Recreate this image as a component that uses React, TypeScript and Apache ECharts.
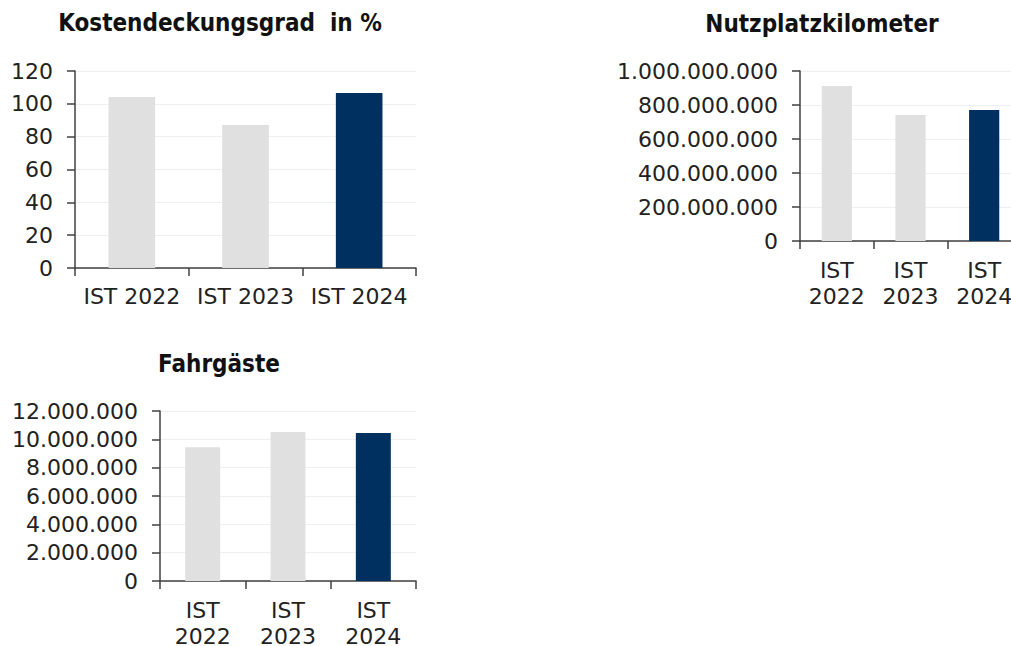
import React, { useEffect, useRef } from "react";
import * as echarts from "echarts";

const categories = ["IST 2022", "IST 2023", "IST 2024"];
const kostendeckungsgrad = [104.2, 87.1, 106.6];
const nutzplatzkilometer = [912000000, 741000000, 770000000];
const fahrgaeste = [9450000, 10510000, 10440000];

const titles = ["Kostendeckungsgrad  in %", "Nutzplatzkilometer", "Fahrgäste"];
const yMax = [120, 1000000000, 12000000];
const yInterval = [20, 200000000, 2000000];

const GREY = "#e0e0e0";
const NAVY = "#00305f";
const barColors = [GREY, GREY, NAVY];
const FONT = "DejaVu Sans";
const TITLE_FONT = "DejaVu Sans Condensed";

const fmt = (v: number) => String(Math.round(v)).replace(/\B(?=(\d{3})+(?!\d))/g, ".");

export default function App() {
  const ref = useRef<HTMLDivElement>(null);
  useEffect(() => {
    if (!ref.current) return;
    const chart = echarts.init(ref.current, undefined, { renderer: "svg" });
    const grids = [
      { left: 75, top: 71, width: 341, height: 197 },
      { left: 800, top: 71, width: 221, height: 170 },
      { left: 160, top: 411, width: 256, height: 170 },
    ];
    const datasets = [kostendeckungsgrad, nutzplatzkilometer, fahrgaeste];
    const titlePos = [
      { x: 220, y: 23 },
      { x: 822, y: 23.5 },
      { x: 219, y: 363.5 },
    ];
    const axisLine = { show: true, lineStyle: { color: "#404040", width: 1.5 } };
    const option: any = {
      animation: false,
      backgroundColor: "#ffffff",
      grid: grids.map((g) => ({ ...g, containLabel: false, outerBoundsMode: "none" })),
      xAxis: grids.map((_, i) => ({
        type: "category",
        gridIndex: i,
        data: categories,
        axisLine,
        axisTick: { show: true, length: 8, lineStyle: { color: "#404040", width: 1.5 } },
        axisLabel: {
          interval: 0,
          margin: i === 0 ? 15 : 16,
          fontFamily: FONT,
          fontSize: 22,
          lineHeight: 26,
          color: "#222222",
          formatter: (v: string) => (i === 0 ? v : v.replace(" ", "\n")),
        },
        splitLine: { show: false },
      })),
      yAxis: grids.map((_, i) => ({
        type: "value",
        gridIndex: i,
        min: 0,
        max: yMax[i],
        interval: yInterval[i],
        axisLine,
        axisTick: { show: true, length: 8, lineStyle: { color: "#404040", width: 1.5 } },
        axisLabel: {
          margin: 22,
          fontFamily: FONT,
          fontSize: 22,
          color: "#222222",
          formatter: (v: number) => fmt(v),
        },
        splitLine: { show: true, lineStyle: { color: "#efefef", width: 1 } },
      })),
      series: datasets.map((d, i) => ({
        type: "bar",
        xAxisIndex: i,
        yAxisIndex: i,
        barWidth: "41%",
        data: d.map((v, j) => ({ value: v, itemStyle: { color: barColors[j] } })),
      })),
      graphic: titles.map((t, i) => ({
        type: "text",
        x: titlePos[i].x,
        y: titlePos[i].y,
        style: {
          text: t,
          fontFamily: TITLE_FONT,
          fontWeight: "bold",
          fontSize: 24,
          fill: "#111111",
          textAlign: "center",
          textVerticalAlign: "middle",
        },
      })),
    };
    chart.setOption(option);
    return () => chart.dispose();
  }, []);
  return (
    <div
      ref={ref}
      style={{ position: "fixed", left: 0, top: 0, width: 1011, height: 646, overflow: "hidden" }}
    />
  );
}
